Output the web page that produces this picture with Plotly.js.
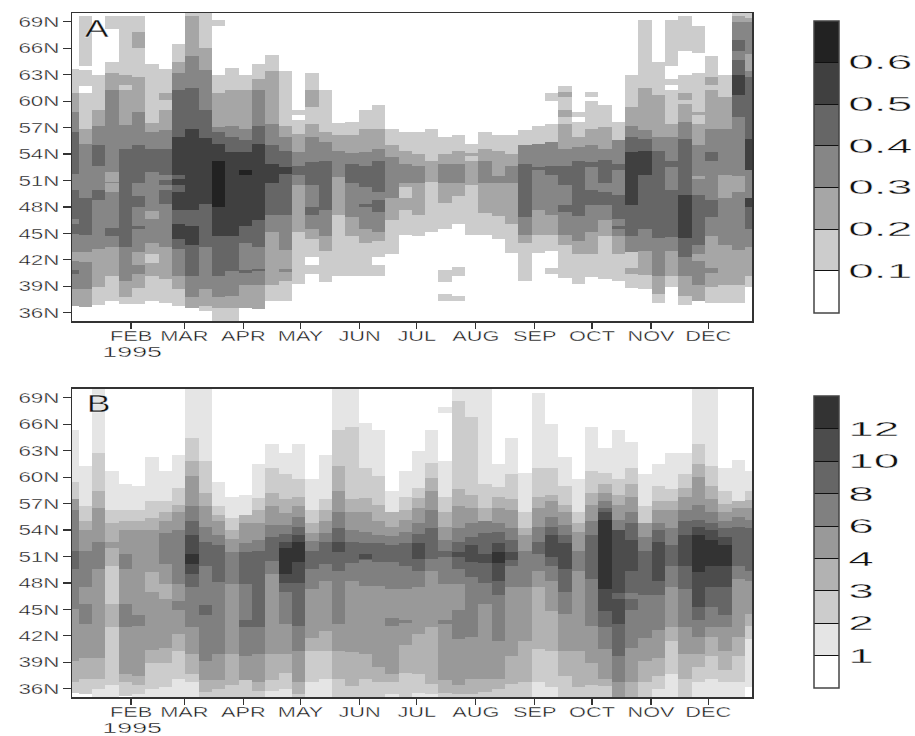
<!DOCTYPE html>
<html><head><meta charset="utf-8">
<script src="https://cdn.plot.ly/plotly-3.0.1.min.js"></script>
<style>html,body{margin:0;padding:0;background:#fff}
#chart svg text{stroke:#fff;stroke-width:.35px}</style>
</head><body><div id="chart" style="width:915px;height:736px"></div>
<script>
// Each week: level, upper latitude of that level, next level, ... (bottom to top; last level runs to the top)
const weeksA = [
[0,36.8,2,38.7,3,40.4,4,40.9,3,41.9,2,42.9,3,45,4,46.1,3,46.7,4,49.9,3,51.8,4,56.5,3,58.8,2,60.9,1,63.7,0],
[0,36.7,2,38.7,3,41.8,2,42.9,3,44.9,4,49.1,3,55.2,2,56.9,1,60.9,0,61.7,1,63.5,0,64,1,69.7,0],
[0,36.9,1,39,2,43.3,3,48.8,4,49.9,3,52.7,4,55,3,57.2,2,59,1,63,0],
[0,37.4,1,40.2,2,43.5,3,44.7,4,45.6,3,49.7,2,50.7,3,50.9,2,52,3,61.3,2,63.2,1,64.5,0,68.2,1,69.7,0],
[0,37,1,37.8,2,39.7,3,43.5,4,54.6,3,57.3,2,61.3,1,61.9,2,63,1,69.7,0],
[0,37,1,38.9,2,40.4,3,41.4,2,42.9,3,45.5,4,45.9,3,48,4,49.3,3,50.7,4,55,3,58.8,2,62.8,1,66,2,67.8,1,69.7,0],
[0,37.4,1,40.2,2,41.7,1,42.7,2,44,3,46.7,2,47.6,3,52,4,54.6,3,56.5,2,57.5,1,64.2,0],
[0,37.2,1,39.9,2,43.5,3,48.4,4,49.9,3,50.5,4,51.1,3,51.7,4,54.6,3,56.7,2,59,1,60.2,2,60.9,1,63.7,0],
[0,36.8,1,38.7,2,40.2,3,43.3,4,44.4,5,46.1,4,47.7,5,49.7,4,50.5,5,51.2,4,51.7,5,56,4,61.3,3,63.2,2,64.4,1,66.5,0],
[0,36.6,2,37.8,3,40.2,4,43.7,5,45.9,4,47.7,5,56.9,4,61.5,3,65.1,2,69.7,1],
[0,36.3,1,36.8,2,38.7,3,43.5,4,48.4,5,55.8,4,59,3,63.5,2,66,1],
[1,36.6,2,37.8,3,40.2,4,44.7,5,48,6,53.2,5,55.2,4,56.5,3,57.1,2,60.9,1,63,0,68.5,1,69.2,0],
[1,36.6,2,38,3,40.8,4,44.7,5,54.3,4,56,3,57.2,2,61.3,1,63.8,0],
[0,36.6,2,39.2,3,40.6,4,40.9,3,44,4,45.9,5,51.7,6,52.2,5,54.3,4,55.6,3,56.9,2,61.3,1,63,0],
[0,36.5,2,39.2,3,40.8,4,41,3,43.5,4,46.5,5,55.2,4,57.2,3,61.3,2,62.5,1,64.2,0],
[0,37.4,1,39.2,2,45.2,3,47.1,4,50.7,5,52.9,4,55,3,57.4,2,63.4,1,65.2,0],
[0,37.4,1,39.7,2,40.7,3,41,2,43.2,3,47.1,4,51.8,5,52.5,4,54.4,3,56,2,57.2,1,63.4,0],
[0,39.3,1,45.2,2,50.5,3,51.7,4,52.7,3,54.3,2,56.3,1,57.9,0,58.4,1,59,0],
[0,40.4,1,41.5,0,42.4,1,44.4,2,45.5,3,47.1,4,48,3,50.5,4,53.1,3,56,2,57.4,1,59.4,2,61.3,1,63.2,0],
[0,39.5,1,43,2,44.7,3,47.7,4,53.2,3,55.4,2,56.5,1,61.3,0],
[0,40.2,1,47.1,2,51.4,3,54.4,2,56.2,1,57.5,0],
[0,40.2,1,44.7,2,46.9,3,50.7,4,52.9,3,54.1,2,56.2,1,57.7,0],
[0,40.2,1,44,2,45.5,3,48,4,48.4,3,50.3,4,52.7,3,54.3,2,56.9,1,59,0],
[0,40.2,1,41.5,0,42.4,1,44.2,2,45.2,3,47.5,4,48.8,3,49.7,4,53.2,3,54.6,2,56.9,1,59.6,0],
[0,42.7,1,46.5,2,49,3,53.7,2,55,1,56.9,0],
[0,44.8,1,47.7,2,49,1,50.3,2,50.8,3,52.9,2,54.4,1,56.5,0],
[0,44.7,1,47.1,2,50.7,3,52.7,2,54,1,56.5,0],
[0,45.2,1,50.9,2,53.2,1,56.9,0],
[0,37.4,1,38.2,0,39.5,1,40.9,0,45.5,1,48.5,2,50.7,3,52.9,2,54,1,56,0],
[0,37.4,1,38,0,40.2,1,41.2,0,46.1,1,49.3,2,50.7,3,52.9,2,54.4,1,56.2,0],
[0,44.8,1,50.5,2,53.2,1,53.8,2,54.1,1,55.2,0],
[0,44.8,1,47.3,2,50.7,3,53.2,2,54.6,1,56.5,0],
[0,44.4,1,47,2,50.7,3,51.5,2,54.4,1,56.2,0],
[0,42.8,1,46.1,2,50.7,3,52.7,2,54,1,56.2,0],
[0,39.7,1,44,2,44.9,3,46.9,4,52.9,3,55,1,56.7,0],
[0,42.8,1,44.9,2,47.7,3,52.2,4,52.5,3,55.2,1,57.2,0],
[0,40.4,1,41.1,0,43,1,44.8,2,47.1,3,51.7,4,52.7,3,55.4,1,57.4,0,60,1,60.9,0],
[0,40,1,43.7,2,44.8,3,47.5,4,48.2,3,50.5,4,52.7,3,54.6,2,57.4,1,58.2,2,59,1,60.5,2,61,1,61.7,0],
[0,39.3,1,42.7,2,44.2,3,47,4,53.2,3,54.8,2,56,1,57.7,0,58.2,1,58.8,0],
[0,40.1,1,42.7,2,45.2,3,48.2,4,49.9,3,52.6,4,53.1,3,55,2,56.9,1,60,0,60.5,1,61,0],
[0,39.9,1,44.7,2,46.5,3,48.2,4,49.7,3,50.7,4,53.4,3,54.6,2,57.1,1,59.6,0],
[0,39.7,1,42.7,2,44.7,3,45.5,4,45.9,3,46.7,4,49.4,3,52.2,4,52.9,3,55.6,1,57.7,0],
[0,38.9,1,40.4,2,41.1,1,42.9,3,44.7,4,48.2,5,54.3,4,56,3,57.2,2,59.3,1,63,0],
[0,38.7,1,40.3,2,43,3,45.5,4,51.7,5,54.4,4,55.7,3,56.7,2,61.5,1,69.2,0],
[0,37.2,1,38.2,2,40.2,3,44.5,4,54.4,3,56,2,60.7,1,64.4,0],
[0,39,1,40.2,2,43,3,44.6,4,49.9,3,52.6,4,53.2,3,56,2,57.4,1,61.3,0,61.9,1,62.5,0,64,1,69.2,0],
[0,36.9,1,38,2,40.2,3,42.4,4,44.5,5,49.4,4,55.7,3,57.7,2,59.7,1,60.1,2,60.9,1,63,0,65.7,1,69.7,0],
[0,37.4,2,39.2,3,41.9,2,42.7,3,43.7,4,49.4,3,51.2,2,51.5,3,55,2,57.4,1,58.5,2,58.8,1,63.2,0,65.5,1,68.5,0],
[0,37.2,1,39,2,40.5,3,41.1,2,44.7,3,46.9,4,48.8,3,53.2,4,54.3,3,56.9,2,61.3,1,61.9,2,62.7,1,65.1,0],
[0,37.2,1,39.2,2,43.7,3,49,2,51.7,3,56.9,2,60.5,1,63,0],
[0,37.2,1,39.2,2,43.2,3,49.7,2,51.5,3,58.2,4,60.7,5,63,4,64.7,3,65.7,4,66.9,3,69,2,69.7,1],
[0,39,1,40.2,2,43.5,3,45.5,4,48,5,49,3,52.2,5,55.7,4,62.8,3,63.4,2,65.4,3,69,2,69.4,1]
];
const weeksB = [
[0,35.6,2,36.8,3,39.2,4,45.1,5,49.6,6,51.7,5,56.3,4,57.5,2,59.5,1,65.3,0],
[0,35.5,2,37.2,3,39.5,4,43.4,5,45.7,4,47.6,5,51.7,4,54,3,55,2,56.7,1,61.3,0],
[1,36,2,37.2,3,39.5,4,49.6,5,52.7,4,56.5,3,58.5,2,62.8,1],
[1,36.5,2,43,3,45.7,2,50,3,52,4,52.7,3,54.8,2,56.3,1,60.7,0],
[0,35.2,2,36.8,3,37.7,4,43,5,45.7,4,49.6,5,51.3,4,54,3,55,2,56.3,1,59.2,0],
[1,35.4,2,36.5,3,37.5,4,43.2,5,44.4,4,54,3,55,2,56.3,1,59,0],
[1,36,2,39,3,40.4,4,47,3,49.3,4,54,3,55.4,2,57.3,1,62.3,0],
[1,36.3,2,39,3,40.7,4,46.2,3,47.9,4,50.2,5,53.7,4,55,3,56.1,2,57.3,1,60.7,0],
[1,37.2,2,40.3,3,42.2,4,45,5,46,4,47.9,5,54,4,56.1,3,56.9,2,58.8,1,62.5,0],
[1,36.8,2,37.7,3,40,4,43,5,47.6,6,49.1,7,50.2,8,51.3,7,53.5,6,55,5,56.7,4,60.1,3,61.8,2,64.5,1],
[2,35.7,3,37,4,39.2,5,44.4,6,45.5,5,50,6,52.7,5,54.4,4,56.7,3,58.2,2,61.9,1],
[2,36,3,37,4,40,5,48.1,6,52.3,5,53.5,4,55,3,55.7,2,56.7,1,59.5,0],
[2,36.5,3,40,4,47.9,5,51.5,4,53,3,54,2,55.4,1,57.8,0],
[2,37,4,39.8,5,43,6,43.8,5,47.9,6,51.5,5,52.6,4,54.8,3,55.7,1,58,0],
[2,35.8,3,36.8,4,40,5,43,6,51.7,5,52.9,4,54.8,3,56.3,2,57.6,1,61.5,0],
[1,35.8,2,37,3,40,4,49.1,5,50.5,6,53.2,5,54.6,4,56.7,3,58.2,2,61,1,63.8,0],
[1,36,2,37.8,3,40,4,43.4,5,47,6,48,7,49.1,8,52,7,52.7,6,53.6,5,54.6,4,56,3,57.5,2,60.4,1,62.7,0],
[2,35.5,3,36.8,4,40.3,5,43.2,6,48,7,50.4,8,52.7,7,53.5,6,54.4,5,55.5,4,56.7,3,57.8,2,59.8,1,63.8,0],
[1,36.8,2,40.3,3,41.8,4,47.3,5,49.6,6,51.7,5,52.8,4,53.7,3,54.8,2,56.3,1,59.8,0],
[1,37.2,2,40.3,3,42.6,4,48.2,5,50.2,6,52.7,5,53.7,4,55,3,56.3,2,57.5,1,62.5,0],
[2,37.2,3,40.3,4,43.4,5,49.4,6,51.5,7,52.7,6,54.2,5,56.1,4,58.5,3,61.3,2,65.3,1],
[2,36.4,3,40.2,4,48.2,5,50.3,6,52.7,5,54,4,56.1,3,57.5,2,65.7,1],
[2,37.1,3,40,4,47.7,5,50.6,6,50.7,7,51.3,6,52.5,5,53.8,4,56.1,3,57.7,2,61,1,66.2,0],
[2,36.8,3,38.5,4,47.7,5,50.4,6,52.5,5,53.5,4,55.1,3,56.9,2,60.1,1,65.4,0],
[1,35.5,2,36.8,3,37.7,4,43.2,5,44.1,4,47.4,5,50.4,6,52.3,5,53.4,4,54.4,3,56.1,1,58.5,0],
[2,37.8,3,41,4,43.5,5,43.8,4,47.4,5,50,6,52.5,5,53.8,4,55.2,3,56.3,2,57.8,1,60.7,0],
[1,35.6,2,37.7,3,42.3,4,47.6,5,49.4,6,50.8,7,52.6,6,53.6,5,54.8,4,56.5,3,57.6,2,58.8,1,63,0],
[1,35.4,2,36.6,3,43,4,49.4,5,50.8,6,54.3,5,56.3,4,58.5,3,59.9,2,61.6,1,65.3,0],
[2,35.6,3,37,4,43.4,5,43.8,4,47.9,5,51,6,51.7,5,52.9,4,54.4,3,56.1,2,57.8,1,61.9,0,67.3,1,68,0],
[2,35.4,3,36.5,4,41.7,5,45,4,47.9,5,49.6,6,51,7,51.5,6,52.7,5,54.3,4,56.7,3,58.7,2,68.6,1],
[2,35.5,3,37.1,4,41.9,5,48.7,6,50.4,7,52.3,6,53.2,5,54.8,4,56.5,3,58,2,66.8,1],
[2,35.7,3,37.1,4,45.7,5,48,6,50.3,7,51.3,6,53.7,5,55,3,56.5,2,59.2,1],
[2,36,3,37.1,4,41.5,5,46.7,6,48.2,7,50.3,8,51.5,7,52.5,6,53.8,5,54.8,4,56.5,3,57.8,2,58.9,1,61.5,0],
[2,36.6,3,39.8,4,47.6,5,50,6,50.6,7,51.5,6,52.9,5,54.2,4,56.3,3,57.5,2,60.4,1,64.4,0],
[2,36.8,3,41.5,4,47.6,5,51.7,4,53.5,3,54.3,2,56.1,1,60.5,0],
[1,36.8,2,40.5,3,47.6,4,49.4,5,51.3,6,52.7,5,54.4,4,56.5,3,57.8,2,61,1,69.5,0],
[1,36.3,2,40.3,3,44.8,4,48.2,5,50,6,51,7,53.5,6,54.4,5,55.5,4,57.3,3,58,2,61,1,66,0],
[2,37.5,3,40.3,4,44.5,5,47,6,49.6,7,52.5,6,53.5,5,54.6,4,56.1,3,56.9,2,59,1,62.3,0],
[2,36.3,3,40.3,4,49.4,5,51.7,4,53.8,3,54.8,2,56.1,1,59.8,0],
[2,36.5,3,39,4,43.2,5,48.5,6,53.5,5,55.1,4,56.9,3,58.2,2,60.7,1,65.7,0],
[2,36.4,3,37.1,4,40.5,5,43,6,44.8,7,47.3,8,55.2,7,56.1,6,56.5,5,57.3,4,58.2,3,59.2,2,60.5,1,63.3,0],
[4,36.8,5,39.8,6,43.4,7,46.2,6,46.9,7,54,5,55.2,4,56.9,3,58,2,59.8,1,65.3,0],
[3,36.8,4,40.7,5,45,6,46.2,5,46.9,6,49.4,7,52.9,6,54.8,5,56.1,4,57.8,3,59.2,2,61,1,64,0],
[2,36.8,3,39.2,4,41.8,5,46.7,6,51.7,5,53.2,4,54.8,2,56.7,1,60.4,0],
[1,36,2,37.5,3,39.5,4,42.7,5,46.7,6,48.2,7,52.7,6,54,5,54.8,4,56.3,3,57.3,2,59,1,61.5,0],
[1,37.7,2,41.5,3,43,4,47.6,5,50,6,52.3,5,54.2,4,56.3,3,57.3,2,58.7,1,62.7,0],
[2,37.1,3,40,4,43,5,47.3,6,50,7,53.5,6,55,5,56.3,4,57.8,3,58.8,2,60.4,1,62.7,0],
[1,36.8,2,38.5,3,40,4,41.9,5,43.8,6,45.3,7,49.3,8,53.5,7,54.4,6,55.2,5,56.9,4,60,3,61.5,2,63.8,1],
[1,37.1,2,39.8,3,41.9,4,43,5,45.3,6,47.6,7,50,8,52.9,7,54,6,54.8,5,56.1,4,57.5,3,59,2,61.3,1],
[1,36.8,2,38.2,3,40.3,4,43,5,44.4,6,47.6,7,50,8,52.3,7,53.2,6,54.2,5,55,4,56.1,3,57,2,58.5,1,61,0],
[1,36.8,2,39.8,3,41.9,4,48.5,5,50,6,54.4,5,55.5,4,56.5,3,57.3,1,62,0],
[0,36.3,1,41.7,2,43.2,3,44.5,4,48.3,5,49.4,6,54.3,5,55.2,4,56.5,3,57.4,2,58.5,1,60.7,0]
];
const monthDays = [31,59,90,120,151,181,212,243,273,304,334];
const monthLabels = ['FEB','MAR','APR','MAY','JUN','JUL','AUG','SEP','OCT','NOV','DEC'];
const latTicks = [36,39,42,45,48,51,54,57,60,63,66,69];
const latLabels = ['36N','39N','42N','45N','48N','51N','54N','57N','60N','63N','66N','69N'];
const shadesA = ['#ffffff','#cccccc','#a6a6a6','#868686','#666666','#404040','#222222'];
const shadesB = ['#ffffff','#e5e5e5','#cccccc','#b2b2b2','#999999','#808080','#666666','#4c4c4c','#333333'];
const legendA = ['0.1','0.2','0.3','0.4','0.5','0.6'];
const legendB = ['1','2','3','4','6','8','10','12'];

const weekX = weeksA.map((_, i) => i * 7);
const latY = Array.from({length: 350}, (_, i) => 35.05 + i * 0.1);

function levelAt(week, lat) {
  for (let k = 1; k < week.length; k += 2) if (lat < week[k]) return week[k - 1];
  return week[week.length - 1];
}
// each level sits in the middle of its colour band
function grid(weeks) { return latY.map(lat => weeks.map(w => levelAt(w, lat) + 0.5)); }
function stepped(shades) {
  const out = [], n = shades.length;
  shades.forEach((c, i) => { out.push([i / n, c]); out.push([(i + 1) / n, c]); });
  return out;
}
function bar(y, labels) {
  return {
    thickness: 25, thicknessmode: 'pixels', len: 292, lenmode: 'pixels',
    x: 1.0907, xanchor: 'left', y: y, yanchor: 'bottom', yref: 'paper', xpad: 0, ypad: 0,
    tickmode: 'array', tickvals: labels.map((_, i) => i + 1), ticktext: labels,
    ticks: 'inside', ticklen: 25, tickwidth: 1, tickcolor: '#111',
    outlinecolor: '#444', outlinewidth: 1.5,
    tickfont: {family: 'Liberation Sans', size: 20, color: '#111'}
  };
}
function heat(weeks, shades, labels, xa, ya, barY) {
  return {type: 'heatmap', x: weekX, y: latY, z: grid(weeks),
    xaxis: xa, yaxis: ya, zmin: 0, zmax: shades.length, zsmooth: false,
    colorscale: stepped(shades), hoverinfo: 'skip', colorbar: bar(barY, labels)};
}
const tickFont = {family: 'Liberation Sans', size: 14.5, color: '#111'};
const xAxis = a => ({domain: [0, 1], range: [0, 357], anchor: a, tickmode: 'array', tickvals: monthDays,
  ticktext: monthLabels, ticks: 'outside', ticklen: 6, tickwidth: 1.2, tickcolor: '#333', tickangle: 0,
  showgrid: false, zeroline: false, showline: true, mirror: true, linecolor: '#333', linewidth: 1.5, tickfont: tickFont});
const yAxis = (a, d) => ({domain: d, range: [35.07, 70], anchor: a, tickmode: 'array', tickvals: latTicks,
  ticktext: latLabels, ticks: 'outside', ticklen: 8, tickwidth: 1.2, tickcolor: '#333',
  showgrid: false, zeroline: false, showline: true, mirror: true, linecolor: '#333', linewidth: 1.5, tickfont: tickFont});
const note = (t, x, y, size) => ({text: t, xref: 'paper', yref: 'paper', x: x, y: y, xanchor: 'center', yanchor: 'middle',
  showarrow: false, font: {family: 'Liberation Sans', size: size, color: '#111'}});

const layout = {
  width: 915, height: 736, margin: {l: 72, r: 163, t: 13, b: 39},
  paper_bgcolor: '#fff', plot_bgcolor: '#fff', showlegend: false,
  xaxis: xAxis('y'), yaxis: yAxis('x', [0.5497, 1]),
  xaxis2: xAxis('y2'), yaxis2: yAxis('x2', [0, 0.4503]),
  annotations: [
    note('A', 0.0368, 0.977, 23), note('B', 0.0395, 0.4285, 23),
    note('1995', 0.088, 0.504, 14.5), note('1995', 0.088, -0.0455, 14.5)
  ]
};
const traces = [
  heat(weeksA, shadesA, legendA, 'x', 'y', 0.562),
  heat(weeksB, shadesB, legendB, 'x2', 'y2', 0.0127)
];
const gd = document.getElementById('chart');
Plotly.newPlot(gd, traces, layout, {displayModeBar: false, staticPlot: true}).then(() => {
  // the reference lettering is a wide stroke face: widen the real text to match
  const stretch = (t, f) => {
    const w = t.getComputedTextLength();
    t.setAttribute('textLength', (w * f).toFixed(1));
    t.setAttribute('lengthAdjust', 'spacingAndGlyphs');
  };
  gd.querySelectorAll('.xtick text, .x2tick text').forEach(t => {
    stretch(t, 1.5);
    t.setAttribute('y', parseFloat(t.getAttribute('y') || 0) - 5);
  });
  gd.querySelectorAll('.ytick text, .y2tick text').forEach(t => stretch(t, 1.55));
  gd.querySelectorAll('.annotation-text').forEach(t => stretch(t, t.textContent === '1995' ? 1.85 : 1.55));
  gd.querySelectorAll('.colorbar text').forEach(t => {
    stretch(t, 2.3);
    t.setAttribute('x', parseFloat(t.getAttribute('x') || 0) + 4);
  });
});
</script></body></html>
